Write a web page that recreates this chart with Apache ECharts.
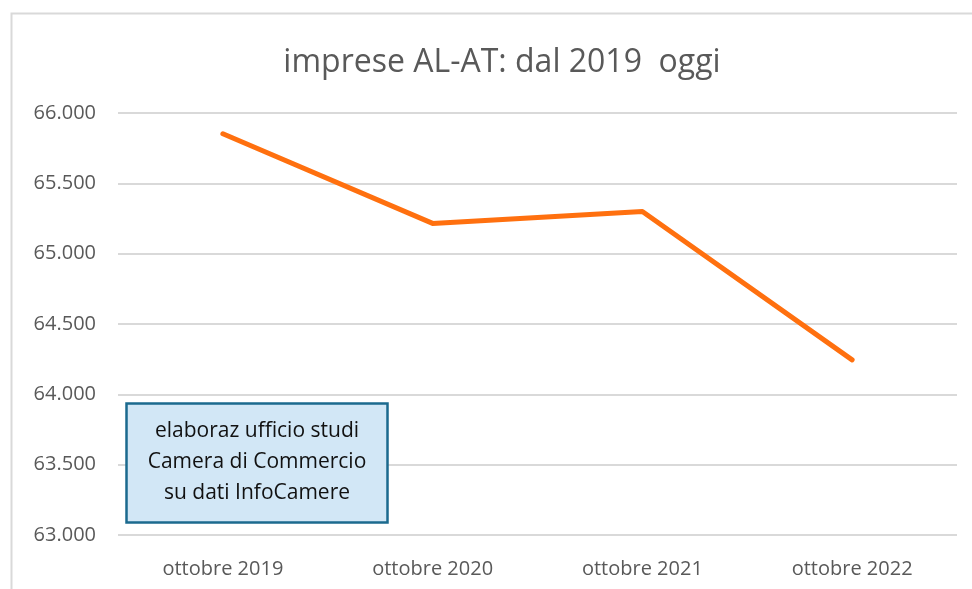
<!DOCTYPE html>
<html>
<head>
<meta charset="utf-8">
<script src="https://cdn.jsdelivr.net/npm/echarts@6/dist/echarts.min.js"></script>
<style>
  html, body { margin: 0; padding: 0; background: #fff; }
  #chart { width: 972px; height: 589px; }
</style>
</head>
<body>
<div id="chart"></div>
<script>
const titleText = "imprese AL-AT: dal 2019  oggi";
const categories = ["ottobre 2019", "ottobre 2020", "ottobre 2021", "ottobre 2022"];
const impreseValues = [65852, 65215, 65300, 64245];
const noteLines = ["elaboraz ufficio studi", "Camera di Commercio", "su dati InfoCamere"];

const chart = echarts.init(document.getElementById("chart"));

// formato italiano: 66.000
function fmt(v) {
  return String(v).replace(/\B(?=(\d{3})+(?!\d))/g, ".");
}

const option = {
  animation: false,
  title: {
    text: titleText,
    left: 497,
    textAlign: "center",
    top: 42,
    textStyle: {
      fontFamily: "Open Sans",
      fontSize: 32,
      fontWeight: "normal",
      color: "#595959"
    }
  },
  grid: {
    left: 118,
    right: 15,
    top: 113,
    bottom: 54
  },
  xAxis: {
    type: "category",
    data: categories,
    axisLine: { show: false },
    axisTick: { show: false },
    axisLabel: {
      margin: 24,
      fontFamily: "Open Sans",
      fontSize: 20,
      color: "#595959"
    }
  },
  yAxis: {
    type: "value",
    min: 63000,
    max: 66000,
    interval: 500,
    axisLine: { show: false },
    axisTick: { show: false },
    splitLine: { lineStyle: { color: "#d9d9d9", width: 2 } },
    axisLabel: {
      margin: 22,
      fontFamily: "Open Sans",
      fontSize: 20,
      color: "#595959",
      formatter: fmt
    }
  },
  series: [
    {
      name: "imprese",
      type: "line",
      data: impreseValues,
      showSymbol: false,
      lineStyle: { color: "#ff700f", width: 5, cap: "round", join: "round" },
      itemStyle: { color: "#ff700f" }
    }
  ],
  graphic: [
    {
      type: "rect",
      shape: { x: 11.5, y: 13.5, width: 1000, height: 620 },
      style: { fill: "none", stroke: "#d9d9d9", lineWidth: 2 },
      z: 0
    },
    {
      type: "rect",
      shape: { x: 126.5, y: 403.5, width: 261, height: 119 },
      style: { fill: "#d2e7f6", stroke: "#1b6a8e", lineWidth: 2.5 },
      z: 10
    },
    {
      type: "text",
      x: 257,
      y: 462,
      style: {
        text: noteLines.join("\n"),
        fontFamily: "Open Sans",
        fontSize: 21,
        lineHeight: 31,
        fill: "#111111",
        align: "center",
        verticalAlign: "middle"
      },
      z: 11
    }
  ]
};

chart.setOption(option);
</script>
</body>
</html>
